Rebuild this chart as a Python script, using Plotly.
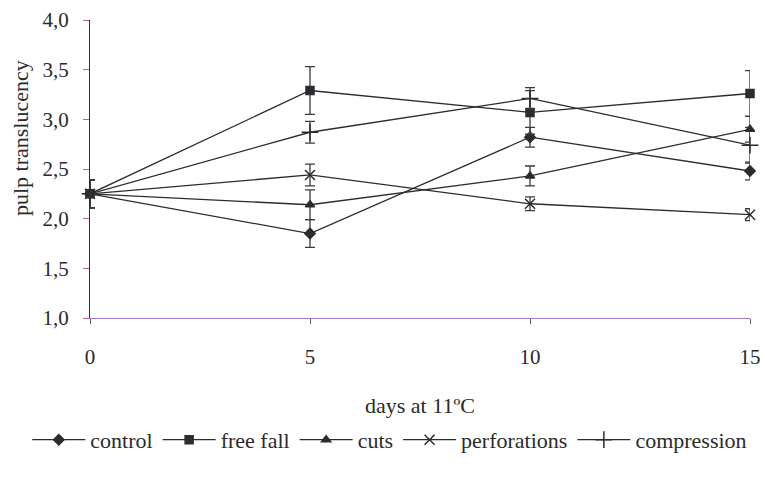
import plotly.graph_objects as go

days = [0, 5, 10, 15]
series_names = ["control", "free fall", "cuts", "perforations", "compression"]
control = [2.25, 1.85, 2.82, 2.48]
free_fall = [2.25, 3.29, 3.07, 3.26]
cuts = [2.25, 2.14, 2.43, 2.90]
perforations = [2.25, 2.44, 2.15, 2.04]
compression = [2.25, 2.87, 3.21, 2.74]

err_control = [0.14, 0.14, 0.10, 0.09]
err_free_fall = [0.14, 0.24, 0.22, 0.23]
err_cuts = [0.14, 0.15, 0.10, 0.13]
err_perforations = [0.14, 0.11, 0.07, 0.06]
err_compression = [0.14, 0.11, 0.11, 0.18]

y_ticks = [1.0, 1.5, 2.0, 2.5, 3.0, 3.5, 4.0]
x_ticks = [0, 5, 10, 15]
x_title = "days at 11ºC"
y_title = "pulp translucency"

values = [control, free_fall, cuts, perforations, compression]
errors = [err_control, err_free_fall, err_cuts, err_perforations, err_compression]
symbols = ["diamond", "square", "triangle-up", "x-thin", "cross-thin"]
sizes = [8, 8, 8, 10, 12]

FONT = "Liberation Serif"
LINE = "#2b2b30"
TXT = "#2a2a2a"

fig = go.Figure()
for name, vals, err, sym, sz in zip(series_names, values, errors, symbols, sizes):
    fig.add_trace(go.Scatter(
        x=days, y=vals, name=name, mode="lines+markers",
        line=dict(color=LINE, width=1.3),
        marker=dict(symbol=sym, size=sz, color=LINE,
                    line=dict(color=LINE, width=1.5)),
        error_y=dict(type="data", array=err, visible=True,
                     color="#3a3a40", thickness=1.3, width=5),
        cliponaxis=False,
    ))

fig.update_layout(
    width=765, height=483,
    margin=dict(l=90, r=15, t=20, b=165, autoexpand=False),
    paper_bgcolor="white", plot_bgcolor="white",
    separators=", ",
    font=dict(family=FONT, size=21, color=TXT),
    showlegend=True,
    legend=dict(orientation="h", x=-0.095, xanchor="left", xref="paper",
                y=-0.409, yanchor="middle", yref="paper",
                font=dict(family=FONT, size=22, color=TXT),
                itemwidth=53, tracegroupgap=0),
    xaxis=dict(range=[0, 15], tickvals=x_ticks, ticks="outside", ticklen=5,
               tickcolor="#555", showgrid=False, zeroline=False,
               showline=True, linecolor="#a07cc8", linewidth=1.2,
               ticklabelstandoff=15, automargin=False,
               tickfont=dict(family=FONT, size=21, color=TXT)),
    yaxis=dict(range=[1.0, 4.0], tickvals=y_ticks, tickformat=".1f",
               ticks="outside", ticklen=6, tickcolor="#b86a7a",
               showgrid=False, zeroline=False,
               showline=True, linecolor="#333", linewidth=1.2,
               ticklabelstandoff=10, automargin=False,
               tickfont=dict(family=FONT, size=21, color=TXT)),
    annotations=[
        dict(text=x_title, xref="paper", yref="paper", x=0.5, y=-0.292,
             xanchor="center", yanchor="middle", showarrow=False,
             font=dict(family=FONT, size=22, color=TXT)),
        dict(text=y_title, xref="paper", yref="paper", x=-0.106, y=0.604,
             xanchor="center", yanchor="middle", textangle=-90, showarrow=False,
             font=dict(family=FONT, size=22, color=TXT)),
    ],
)

fig.write_html("out.html")
